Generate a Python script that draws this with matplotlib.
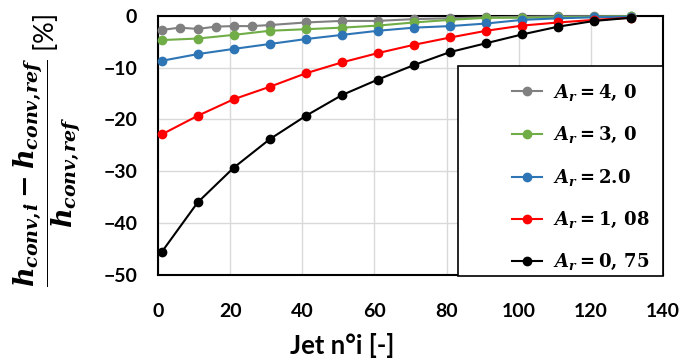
import matplotlib
matplotlib.use("Agg")
import matplotlib.pyplot as plt
from matplotlib.patches import Rectangle

plt.rcParams['font.family'] = ['Lato', 'DejaVu Sans']
plt.rcParams['mathtext.fontset'] = 'custom'
plt.rcParams['mathtext.it'] = 'DejaVu Serif:italic:bold'
plt.rcParams['mathtext.rm'] = 'DejaVu Serif:bold'
plt.rcParams['mathtext.bf'] = 'DejaVu Serif:bold'
plt.rcParams['xtick.major.pad'] = 20
plt.rcParams['ytick.major.pad'] = 15
plt.rcParams['xtick.major.size'] = 0
plt.rcParams['ytick.major.size'] = 0

# jet numbers
jets_fine = [1, 6, 11, 16, 21, 26, 31, 41, 51, 61, 71, 81, 91, 101, 111, 121, 131]
jets = [1, 11, 21, 31, 41, 51, 61, 71, 81, 91, 101, 111, 121, 131]

# relative change of convective coefficient [%]
ar_40 = [-2.75, -2.3, -2.55, -2.1, -2.0, -2.0, -1.8, -1.3, -1.0, -1.0, -0.65, -0.5, -0.3, -0.2, -0.1, -0.1, -0.1]
ar_30 = [-4.7, -4.4, -3.7, -2.9, -2.6, -2.3, -1.9, -1.3, -0.8, -0.4, -0.4, -0.3, -0.2, -0.1]
ar_20 = [-8.7, -7.4, -6.4, -5.45, -4.5, -3.7, -2.9, -2.3, -2.0, -1.5, -0.8, -0.5, -0.3, -0.2]
ar_108 = [-22.9, -19.3, -16.1, -13.7, -11.1, -9.0, -7.2, -5.6, -4.2, -2.9, -1.9, -1.3, -0.8, -0.4]
ar_075 = [-45.6, -36.0, -29.3, -23.8, -19.3, -15.3, -12.3, -9.5, -7.0, -5.3, -3.6, -2.1, -1.0, -0.4]

labels = [r'$A_r = 4,\,0$', r'$A_r = 3,\,0$', r'$A_r = 2.0$', r'$A_r = 1,\,08$', r'$A_r = 0,\,75$']
colors = ['#808080', '#70AD47', '#2E75B6', '#FF0000', '#000000']

fig = plt.figure(figsize=(6.84, 3.63), dpi=100)
ax = fig.add_axes([0.2310, 0.2424, 0.7383, 0.7143])

series = [(jets_fine, ar_40), (jets, ar_30), (jets, ar_20), (jets, ar_108), (jets, ar_075)]
for (xs, ys), lab, col in zip(series, labels, colors):
    ax.plot(xs, ys, color=col, linewidth=1.5, marker='o', markersize=6, label=lab, clip_on=False, zorder=3)

ax.set_xlim(0, 140)
ax.set_ylim(-50, 0)
ax.set_xticks(range(0, 141, 20))
ax.set_yticks(range(-50, 1, 10))
ax.grid(True, color='#d9d9d9', linewidth=1.0)
ax.set_axisbelow(True)
for s in ax.spines.values():
    s.set_linewidth(1.5)
    s.set_color('black')
ax.tick_params(labelsize=14)
for t in ax.get_xticklabels() + ax.get_yticklabels():
    t.set_fontweight('bold')

# legend box (Excel style, square, lower right)
ax.add_patch(Rectangle((0.594, -0.005), 0.406, 0.812, transform=ax.transAxes,
                       facecolor='white', edgecolor='black', linewidth=1.2, zorder=5, clip_on=False))
leg = ax.legend(loc='upper left', bbox_to_anchor=(0.669, 0.804), frameon=False,
                fontsize=13, labelspacing=1.22, handlelength=1.66, handletextpad=0.61)
leg.set_zorder(6)

fig.text(342 / 684, 1 - 345 / 363, 'Jet n°i [-]', ha='center', va='center', fontsize=18.5, fontweight='bold')
fig.text(47 / 684, 1 - 150 / 363,
         r'$\dfrac{h_{conv,\!i}-h_{conv,\!ref}}{h_{conv,\!ref}}$ [%]',
         rotation=90, ha='center', va='center', fontsize=19.5)

fig.savefig('out.png', dpi=100)
